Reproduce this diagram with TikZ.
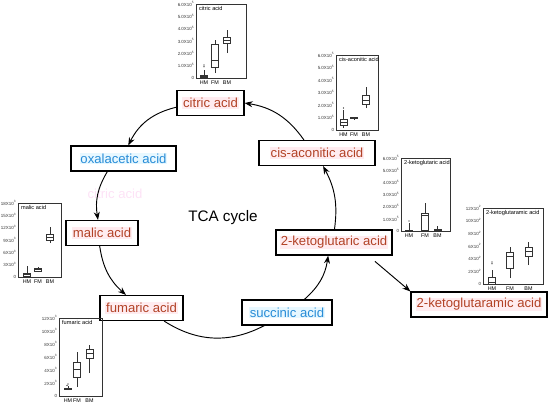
\documentclass[tikz,border=0pt]{standalone}
\usepackage{fontspec}
\setmainfont{Liberation Sans}
\usetikzlibrary{arrows.meta}

\definecolor{acidred}{RGB}{178,66,38}
\definecolor{acidblue}{RGB}{40,140,215}
\definecolor{redbg}{RGB}{255,236,240}
\definecolor{bluebg}{RGB}{232,248,255}
\definecolor{ghost}{RGB}{250,190,235}
\setlength{\fboxsep}{0.6pt}
\newcommand{\redacid}[1]{\colorbox{redbg}{\textcolor{acidred}{#1}}}
\newcommand{\blueacid}[1]{\colorbox{bluebg}{\textcolor{acidblue}{#1}}}

\tikzset{
  acid/.style={draw, line width=1pt, fill=white, minimum height=0.75cm, inner sep=1pt,
    font=\fontsize{11.2}{13}\selectfont},
  cyc/.style={thick, ->},
  plotline/.style={line width=0.4pt, black!80},
  tick/.style={font=\fontsize{3.8}{4}\selectfont, inner sep=0.5pt, text=black!80},
  ptitle/.style={font=\fontsize{4.8}{5}\selectfont, inner sep=0.8pt},
  grp/.style={font=\fontsize{4.6}{5}\selectfont, inner sep=0.5pt},
}

% one box: x, lower whisker, q1, median, q3, upper whisker
\newcommand{\bxp}[6]{%
  \draw[plotline] (#1,#2) -- (#1,#3) (#1,#5) -- (#1,#6);
  \draw[plotline] ({#1-3.5},#3) rectangle ({#1+3.5},#5);
  \draw[plotline] ({#1-3.5},#4) -- ({#1+3.5},#4);
}
% frame of an inset: id, left, top, right, bottom, title, exponent, tick values, groups
\newcommand{\plotframe}[9]{%
  \draw[plotline] (#2,#3) rectangle (#4,#5);
  \node[ptitle, anchor=north west] (#1-title) at ({#2+2},{#3+1.5}) {#6};
  \node[tick, anchor=east] (#1-t0) at ({#2-1},#5) {0};
  \foreach \tv [count=\tn] in {#8}
    \node[tick, anchor=east] (#1-t\tn) at ({#2-1},{#5-\tn*(#5-#3)/6}) {\tv X10\textsuperscript{#7}};
  \foreach \gx/\gn in {#9}
    \node[grp, anchor=north] (#1-\gn) at (\gx,{#5+1.5}) {\gn};
}

\begin{document}
\begin{tikzpicture}[x=0.03cm, y=-0.03cm, >={Stealth[length=2.4mm,width=1.8mm]}]
\useasboundingbox (0,0) rectangle (550,406);

% acids of the cycle
\node[acid, minimum width=2.01cm] (cit) at (210.5,103) {\redacid{citric acid}};
\node[acid, minimum width=3.48cm] (cis) at (317,153) {\redacid{cis-aconitic acid}};
\node[acid, minimum width=3.48cm] (keto) at (334,242.5) {\redacid{2-ketoglutaric acid}};
\node[acid, minimum width=2.7cm] (succ) at (287,312.5) {\blueacid{succinic acid}};
\node[acid, minimum width=4.08cm] (ketam) at (479,304.5) {\redacid{2-ketoglutaramic acid}};
\node[acid, minimum width=2.49cm] (fum) at (141.5,308) {\redacid{fumaric acid}};
\node[acid, minimum width=2.16cm] (mal) at (102,233) {\redacid{malic acid}};
\node[acid, minimum width=3.15cm] (oxal) at (123.5,158.5) {\blueacid{oxalacetic acid}};
\node[font=\fontsize{13}{15}\selectfont] (tca) at (223,218) {TCA cycle};
\node[font=\fontsize{11.2}{13}\selectfont, text=ghost, opacity=0.45] (ghost) at (115,194) {citric acid};

% arrows
\draw[cyc] (cit.187) to[bend right=25] (oxal.70);
\draw[cyc] (oxal.219) to[bend right=20] (mal.107);
\draw[cyc] (mal.260) to[bend right=20] (fum.140);
\draw[thick] (fum.-30) to[bend right=30] (succ.-150);
\draw[cyc] (succ.37) to[bend right=20] (keto.246);
\draw[cyc] (keto.88) to[bend right=18] (cis.295);
\draw[cyc] (cis.135) to[bend right=23] (cit.east);
\draw[cyc, shorten <=0.27cm] (keto.-21) -- (ketam.north west);

% citric acid
\plotframe{pcit}{196}{4}{246}{78}{citric acid}{5}{1.0,2.0,3.0,4.0,5.0,6.0}{204/HM,215/FM,227/BM}
\bxp{204}{78}{77.5}{76.5}{75.5}{70}
\fill (204,65) circle (0.5pt) (204,66.8) circle (0.5pt);
\bxp{215}{73}{67}{60}{44}{40}
\bxp{227}{53}{43}{40}{37}{30}

% cis-aconitic acid
\plotframe{pcis}{336}{55}{378}{130}{cis-aconitic acid}{5}{1.0,2.0,3.0,4.0,5.0,6.0}{343.5/HM,354/FM,366/BM}
\bxp{343.5}{128}{125}{122}{119}{110}
\fill (343.5,108) circle (0.5pt);
\bxp{354}{119}{118.5}{118}{117.5}{117}
\bxp{366}{108}{104}{100}{95}{87}

% 2-ketoglutaric acid
\plotframe{pketo}{401}{158}{450}{231}{2-ketoglutaric acid}{5}{1.0,2.0,3.0,4.0,5.0,6.0}{409/HM,425/FM,437.5/BM}
\bxp{409}{231}{230.6}{230.3}{230}{223}
\fill (409,221) circle (0.5pt);
\bxp{425}{231}{230}{215}{213}{203}
\bxp{437.5}{231}{230.8}{230.3}{229.5}{226}

% 2-ketoglutaramic acid
\plotframe{pketam}{483}{208}{543}{284}{2-ketoglutaramic acid}{2}{2,4,6,8,10,12}{492/HM,510/FM,528.5/BM}
\bxp{492}{284}{283.8}{282}{277}{270}
\fill (492,262) circle (0.5pt) (492,263.8) circle (0.5pt);
\bxp{510}{278}{268}{256}{252}{247}
\bxp{528.5}{265}{256}{251}{247}{242}

% malic acid
\plotframe{pmal}{18}{203}{61}{277}{malic acid}{3}{3,6,9,12,15,18}{27/HM,38/FM,50/BM}
\bxp{27}{277}{276}{274.5}{273}{266}
\bxp{38}{272}{271}{269.5}{268}{267}
\bxp{50}{243}{240}{237}{234}{227}

% fumaric acid
\plotframe{pfum}{59}{318}{102}{396}{fumaric acid}{3}{2,4,6,8,10,12}{68/HM,77/FM,89.5/BM}
\bxp{68}{390}{389}{388.5}{388}{386}
\fill (68,384) circle (0.5pt) (67,385.5) circle (0.5pt);
\bxp{77}{387}{377}{369}{362}{352}
\bxp{89.5}{373}{358}{353}{349}{345}
\end{tikzpicture}
\end{document}
